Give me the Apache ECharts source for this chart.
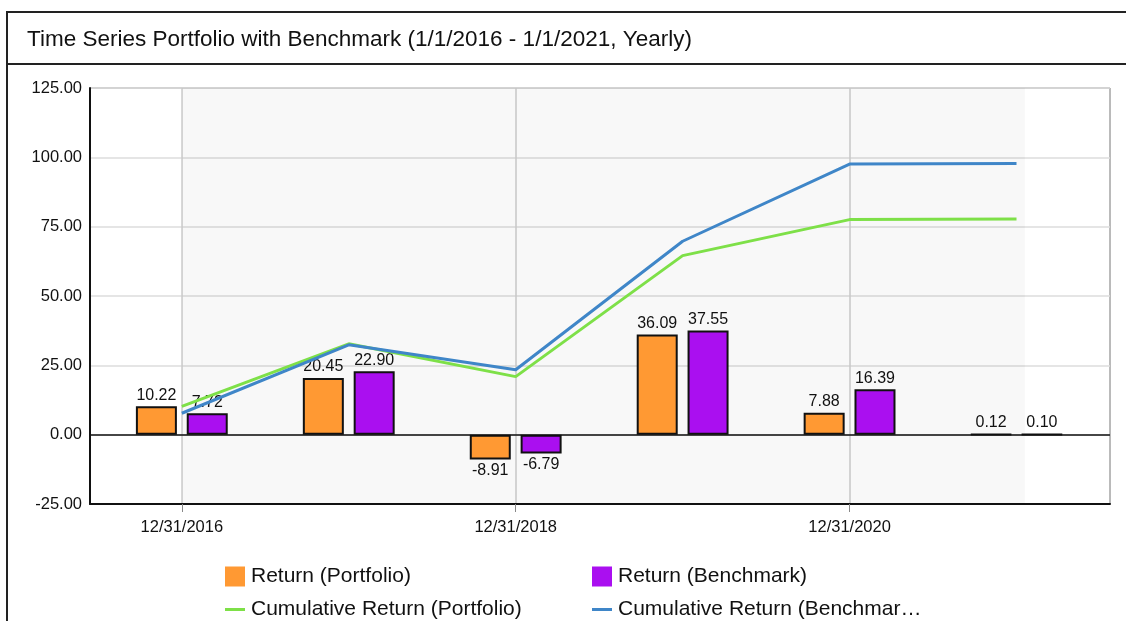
<!DOCTYPE html>
<html>
<head>
<meta charset="utf-8">
<title>Time Series Portfolio with Benchmark</title>
<script src="https://cdn.jsdelivr.net/npm/echarts@6/dist/echarts.min.js"></script>
<style>
    html, body {margin: 0; padding: 0; background: #fff;}
    #chart {width: 1126px; height: 621px;}
</style>
</head>
<body>
<div id="chart"></div>
<script>
//---------------------------Data---------------------------
let titleText = "Time Series Portfolio with Benchmark (1/1/2016 - 1/1/2021, Yearly)";
let dates = ["12/31/2016", "12/31/2017", "12/31/2018", "12/31/2019", "12/31/2020", "12/31/2021"];
let labelDates = [0, 2, 4];

let returnPortfolio = [10.22, 20.45, -8.91, 36.09, 7.88, 0.12];
let returnBenchmark = [7.72, 22.90, -6.79, 37.55, 16.39, 0.10];
let cumPortfolio = [10.22, 32.76, 20.93, 64.57, 77.54, 77.75];
let cumBenchmark = [7.72, 32.39, 23.40, 69.74, 97.56, 97.76];

let yTicks = [-25, 0, 25, 50, 75, 100, 125];

//legend text as it is shown (last one is cut off in the original)
let legendShown = {
    'Cumulative Return (Benchmark)': 'Cumulative Return (Benchmar…'
};

//---------------------------UI---------------------------
let chart = echarts.init(document.getElementById('chart'));
let font = "Liberation Sans, Arial, sans-serif";

//bar data with label under the negative ones
function barData(values) {
    let out = [];
    for (let i = 0; i < values.length; i++) {
        out.push({
            value: [i, values[i]],
            label: {position: values[i] < 0 ? 'bottom' : 'top'}
        });
    }
    return out;
}

function lineData(values) {
    let out = [];
    for (let i = 0; i < values.length; i++) {
        out.push([i, values[i]]);
    }
    return out;
}

//one legend per item, so the two columns line up
function legendItem(name, left, top, isLine) {
    return {
        data: [name],
        left: left, top: top,
        itemWidth: 20,
        itemHeight: isLine ? 3 : 20,
        icon: 'rect',
        itemStyle: {borderWidth: 0},
        formatter: function (n) { return legendShown[n] || n; },
        textStyle: {fontSize: 21, color: '#111', fontFamily: font, padding: [0, 0, 0, 1]}
    };
}

let barLabel = {
    show: true,
    color: '#111',
    fontFamily: font,
    fontSize: 16,
    distance: 3,
    formatter: function (p) { return p.value[1].toFixed(2); }
};

let option = {
    animation: false,
    textStyle: {fontFamily: font},
    graphic: [
        //outer frame + title box
        {type: 'rect', shape: {x: 7, y: 12, width: 1200, height: 700},
            style: {fill: 'none', stroke: '#222', lineWidth: 2}, silent: true},
        {type: 'line', shape: {x1: 7, y1: 64, x2: 1126, y2: 64},
            style: {stroke: '#222', lineWidth: 2}, silent: true},
        {type: 'text', left: 27, top: 28,
            style: {text: titleText, font: '22.5px ' + font, fill: '#111'}}
    ],
    grid: {
        left: 90, right: 16, top: 88, bottom: 117,
        show: true, borderColor: '#777', borderWidth: 1, backgroundColor: '#fff'
    },
    legend: [
        legendItem('Return (Portfolio)', 220, 561, false),
        legendItem('Return (Benchmark)', 587, 561, false),
        legendItem('Cumulative Return (Portfolio)', 220, 594, true),
        legendItem('Cumulative Return (Benchmark)', 587, 594, true)
    ],
    xAxis: {
        type: 'value',
        min: -0.55,
        max: 5.56,
        axisLine: {onZero: false, lineStyle: {color: '#111', width: 2}},
        axisTick: {show: true, customValues: labelDates, length: 8, lineStyle: {color: '#888'}},
        axisLabel: {
            customValues: labelDates,
            margin: 15,
            fontSize: 16.5,
            color: '#111',
            formatter: function (v) { return dates[Math.round(v)]; }
        },
        splitLine: {show: true, lineStyle: {color: '#ccc', width: 1.5}}
    },
    yAxis: {
        type: 'value',
        min: yTicks[0],
        max: yTicks[yTicks.length - 1],
        interval: 25,
        axisLine: {show: true, onZero: false, lineStyle: {color: '#111', width: 2}},
        axisTick: {show: false},
        axisLabel: {fontSize: 16.5, color: '#111', margin: 8,
            formatter: function (v) { return v.toFixed(2); }},
        splitLine: {show: true, lineStyle: {color: '#ddd', width: 1.5}}
    },
    series: [
        {
            name: 'Return (Portfolio)',
            type: 'bar',
            data: barData(returnPortfolio),
            barWidth: 41,
            barGap: '24%',
            itemStyle: {color: '#ff9933', borderColor: '#111', borderWidth: 2},
            label: barLabel,
            markArea: {
                silent: true,
                itemStyle: {color: 'rgba(0,0,0,0.028)'},
                data: [[{xAxis: 0}, {xAxis: 5.05}]]
            },
            markLine: {
                silent: true,
                symbol: 'none',
                label: {show: false},
                lineStyle: {color: '#111', width: 1.5, type: 'solid'},
                data: [{yAxis: 0}]
            }
        },
        {
            name: 'Return (Benchmark)',
            type: 'bar',
            data: barData(returnBenchmark),
            barWidth: 41,
            barGap: '24%',
            itemStyle: {color: '#aa0ff0', borderColor: '#111', borderWidth: 2},
            label: barLabel
        },
        {
            name: 'Cumulative Return (Portfolio)',
            type: 'line',
            data: lineData(cumPortfolio),
            showSymbol: false,
            z: 4,
            itemStyle: {color: '#7ee048'},
            lineStyle: {color: '#7ee048', width: 3}
        },
        {
            name: 'Cumulative Return (Benchmark)',
            type: 'line',
            data: lineData(cumBenchmark),
            showSymbol: false,
            z: 4,
            itemStyle: {color: '#3f86c8'},
            lineStyle: {color: '#3f86c8', width: 3}
        }
    ]
};

chart.setOption(option);
</script>
</body>
</html>
